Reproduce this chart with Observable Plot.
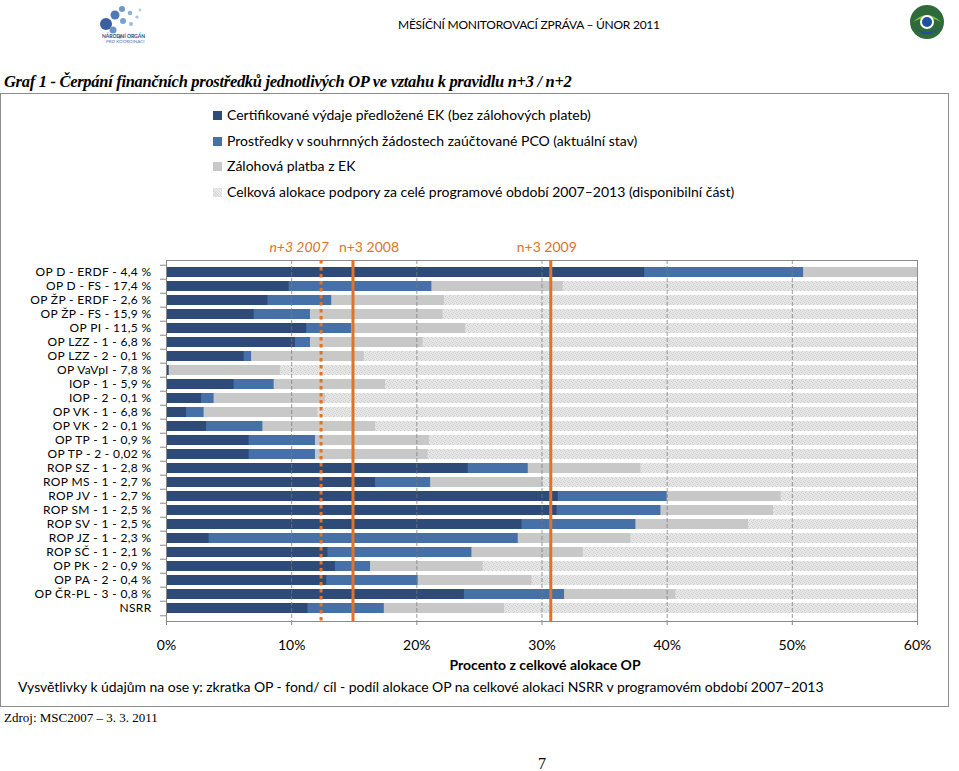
<!DOCTYPE html>
<html>
<head>
<meta charset="utf-8">
<script src="https://cdn.jsdelivr.net/npm/d3@7"></script>
<script src="https://cdn.jsdelivr.net/npm/@observablehq/plot@0.6"></script>
<style>
  html, body { margin: 0; padding: 0; background: #fff; }
  #page { position: relative; width: 959px; height: 771px; overflow: hidden; font-family: Lato, "Open Sans", sans-serif; color: #000; }
  .abs { position: absolute; white-space: nowrap; }
  .serif { font-family: "Liberation Serif", "DejaVu Serif", serif; }
  .legsq { position: absolute; width: 9px; height: 9px; }
  #chart g[aria-label="y-axis tick label"] text { letter-spacing: 0.35px; }
</style>
</head>
<body>
<div id="page">
  <!-- header -->
  <svg class="abs" style="left:96px;top:0px" width="75" height="46">
    <circle cx="10" cy="24" r="6" fill="#3b5f9e"/>
    <circle cx="19" cy="15" r="4.5" fill="#4f79b8"/>
    <circle cx="17" cy="30" r="3.5" fill="#6b93c8"/>
    <circle cx="26" cy="9" r="3" fill="#6f96cc"/>
    <circle cx="27" cy="21" r="3" fill="#7aa0d2"/>
    <circle cx="34" cy="13" r="2.3" fill="#8fb0da"/>
    <circle cx="35" cy="24" r="2" fill="#9cbbe0"/>
    <circle cx="41" cy="17" r="1.6" fill="#aac4e6"/>
    <circle cx="44" cy="10" r="1.4" fill="#b4cbea"/>
    <circle cx="24" cy="37" r="1.8" fill="#8fb0da"/>
    <text x="6" y="38" font-size="5" font-weight="bold" fill="#1f3f7a" font-family="Lato">NÁRODNÍ ORGÁN</text>
    <text x="10" y="43" font-size="4.5" fill="#4f79b8" font-family="Lato">PRO KOORDINACI</text>
  </svg>
  <div class="abs" style="left:398px;top:17px;font-size:12px;letter-spacing:-0.25px">MĚSÍČNÍ MONITOROVACÍ ZPRÁVA – ÚNOR 2011</div>
  <svg class="abs" style="left:893px;top:0px" width="64" height="44">
    <circle cx="34" cy="22" r="17" fill="#2f6b3a"/>
    <path d="M20 22 Q34 8 48 22 Q34 14 20 22Z" fill="#7cc243"/>
    <path d="M22 28 Q34 36 46 28 Q34 40 22 28Z" fill="#1f4f9e"/>
    <circle cx="34" cy="22" r="7" fill="#ffffff"/>
    <circle cx="34" cy="22" r="5" fill="#1f4f9e"/>
  </svg>

  <div class="abs serif" style="left:4px;top:72px;font-size:16.5px;font-weight:bold;font-style:italic;letter-spacing:-0.3px">Graf 1 - Čerpání finančních prostředků jednotlivých OP ve vztahu k pravidlu n+3 / n+2</div>

  <div class="abs" style="left:0px;top:93px;width:949px;height:614px;box-sizing:border-box;border:1px solid #8c8c8c"></div>

  <div id="legend"></div>
  <div id="chart" class="abs" style="left:0px;top:230px"></div>

  <div class="abs" style="left:0px;top:656px;width:1090px;text-align:center;font-size:14px;font-weight:bold">Procento z celkové alokace OP</div>
  <div class="abs" style="left:18px;top:678px;font-size:14px;letter-spacing:-0.05px">Vysvětlivky k údajům na ose y: zkratka OP - fond/ cíl - podíl alokace OP na celkové alokaci NSRR v programovém období 2007–2013</div>
  <div class="abs serif" style="left:4px;top:710px;font-size:13px">Zdroj: MSC2007 – 3. 3. 2011</div>
  <div class="abs serif" style="left:538px;top:755px;font-size:16px">7</div>
</div>
<script>
// ---- data (% of total OP allocation) ----
const categories = [
  "OP D - ERDF - 4,4 %", "OP D - FS - 17,4 %", "OP ŽP - ERDF - 2,6 %", "OP ŽP - FS - 15,9 %",
  "OP PI - 11,5 %", "OP LZZ - 1 - 6,8 %", "OP LZZ - 2 - 0,1 %", "OP VaVpI - 7,8 %",
  "IOP - 1 - 5,9 %", "IOP - 2 - 0,1 %", "OP VK - 1 - 6,8 %", "OP VK - 2 - 0,1 %",
  "OP TP - 1 - 0,9 %", "OP TP - 2 - 0,02 %", "ROP SZ - 1 - 2,8 %", "ROP MS - 1 - 2,7 %",
  "ROP JV - 1 - 2,7 %", "ROP SM - 1 - 2,5 %", "ROP SV - 1 - 2,5 %", "ROP JZ - 1 - 2,3 %",
  "ROP SČ - 1 - 2,1 %", "OP PK - 2 - 0,9 %", "OP PA - 2 - 0,4 %", "OP ČR-PL - 3 - 0,8 %", "NSRR"
];
// cumulative ends of each segment (overlapping bars drawn from 0)
const certified = [38.2, 9.8, 8.1, 7.0, 11.2, 10.3, 6.2, 0.2, 5.4, 2.8, 1.6, 3.2, 6.6, 6.6, 24.1, 16.7, 31.3, 31.2, 28.4, 3.4, 12.9, 13.5, 12.8, 23.8, 11.3];
const pco       = [50.9, 21.2, 13.2, 11.5, 14.8, 11.5, 6.8, 0.2, 8.6, 3.8, 3.0, 7.7, 11.9, 11.9, 28.9, 21.1, 40.0, 39.5, 37.5, 28.1, 24.4, 16.3, 20.1, 31.8, 17.4];
const advance   = [62.0, 31.7, 22.2, 22.1, 23.9, 20.5, 15.8, 9.1, 17.5, 12.7, 12.1, 16.7, 21.0, 20.9, 37.9, 30.1, 49.1, 48.5, 46.5, 37.1, 33.3, 25.3, 29.2, 40.7, 27.0];
const allocation = categories.map(() => 100);
const xTicks = [0, 10, 20, 30, 40, 50, 60];
const ruleN3 = [
  {year: "n+3 2007", value: 12.35},
  {year: "n+3 2008", value: 14.9},
  {year: "n+3 2009", value: 30.7}
];
const seriesNames = [
  "Certifikované výdaje předložené EK (bez zálohových plateb)",
  "Prostředky v souhrnných  žádostech zaúčtované PCO (aktuální stav)",
  "Zálohová platba z EK",
  "Celková alokace podpory za celé programové období 2007–2013 (disponibilní část)"
];

const C_DARK = "#2d4a78", C_BLUE = "#4670a8", C_GRAY = "#c8c8c8", C_ORANGE = "#e07325";
const rows = categories.map((c, i) => ({cat: c, certified: certified[i], pco: pco[i], advance: advance[i], allocation: allocation[i]}));

// legend
const legend = document.getElementById("legend");
const legFills = [C_DARK, C_BLUE, C_GRAY, "hatch"];
seriesNames.forEach((name, i) => {
  const top = 106 + i * 25.6;
  const sq = document.createElement("div");
  sq.className = "legsq";
  sq.style.left = "213px"; sq.style.top = (top + 5) + "px";
  if (legFills[i] === "hatch") {
    sq.style.background = "repeating-linear-gradient(45deg,#d8d8d8 0 1px,#ececec 1px 2px)";
  } else sq.style.background = legFills[i];
  legend.appendChild(sq);
  const t = document.createElement("div");
  t.className = "abs"; t.style.left = "227px"; t.style.top = top + "px"; t.style.fontSize = "14px";
  t.textContent = name;
  legend.appendChild(t);
});

const step = 361 / (25 - 0.28 + 0.1);
const chart = Plot.plot({
  width: 959,
  height: 431,
  marginTop: 30,
  marginBottom: 40,
  marginLeft: 166,
  marginRight: 42,
  style: {fontFamily: "Lato, 'Open Sans', sans-serif", fontSize: "14px", color: "#000", overflow: "visible"},
  x: {domain: [0, 60], label: null},
  y: {domain: categories, paddingInner: 0.28, paddingOuter: 0.05, label: null},
  marks: [
    Plot.barX(rows, {y: "cat", x1: 0, x2: "allocation", fill: "url(#hatchPat)", clip: true}),
    Plot.barX(rows, {y: "cat", x1: 0, x2: "advance", fill: C_GRAY, clip: true}),
    Plot.barX(rows, {y: "cat", x1: 0, x2: "pco", fill: C_BLUE, clip: true}),
    Plot.barX(rows, {y: "cat", x1: 0, x2: "certified", fill: C_DARK, clip: true}),
    Plot.ruleX(xTicks.filter(d => d > 0 && d < 60), {stroke: "#7a7a7a", strokeOpacity: 0.75, strokeDasharray: "4,2", strokeWidth: 1}),
    Plot.frame({stroke: "#8a8a8a", strokeWidth: 1}),
    Plot.ruleY(categories, {y: d => d, x1: -0.48, x2: 0, dy: -step / 2, stroke: "#8a8a8a"}),
    Plot.ruleY([categories[categories.length - 1]], {y: d => d, x1: -0.48, x2: 0, dy: step / 2, stroke: "#8a8a8a"}),
    Plot.ruleX([ruleN3[0]], {x: "value", stroke: C_ORANGE, strokeWidth: 3, strokeDasharray: "3.5,3.5"}),
    Plot.ruleX(ruleN3.slice(1), {x: "value", stroke: C_ORANGE, strokeWidth: 3}),
    Plot.text([ruleN3[0]], {x: "value", text: "year", frameAnchor: "top", lineAnchor: "bottom", dy: -9, dx: -22, fill: C_ORANGE, fontStyle: "italic", fontSize: 14}),
    Plot.text([ruleN3[1]], {x: "value", text: "year", frameAnchor: "top", lineAnchor: "bottom", dy: -9, dx: 16, fill: C_ORANGE, fontSize: 14}),
    Plot.text([ruleN3[2]], {x: "value", text: "year", frameAnchor: "top", lineAnchor: "bottom", dy: -9, dx: -4, fill: C_ORANGE, fontSize: 14}),
    Plot.axisX({ticks: xTicks, tickFormat: d => d + "%", tickSize: 4, tickPadding: 15, stroke: "#8a8a8a", fontSize: 14, label: null}),
    Plot.axisY({tickSize: 0, tickPadding: 15, fontSize: 12, label: null})
  ]
});
// hatch pattern definition for the "Celková alokace" series
const NS = "http://www.w3.org/2000/svg";
const defs = document.createElementNS(NS, "defs");
defs.innerHTML = '<pattern id="hatchPat" width="4" height="4" patternUnits="userSpaceOnUse">' +
  '<rect width="4" height="4" fill="#e6e6e6"/>' +
  '<rect x="0" y="0" width="1" height="1" fill="#cbcbcb"/>' +
  '<rect x="2" y="1" width="1" height="1" fill="#d2d2d2"/>' +
  '<rect x="1" y="2" width="1" height="1" fill="#cbcbcb"/>' +
  '<rect x="3" y="3" width="1" height="1" fill="#d2d2d2"/></pattern>';
chart.insertBefore(defs, chart.firstChild);
document.getElementById("chart").appendChild(chart);
</script>
</body>
</html>
